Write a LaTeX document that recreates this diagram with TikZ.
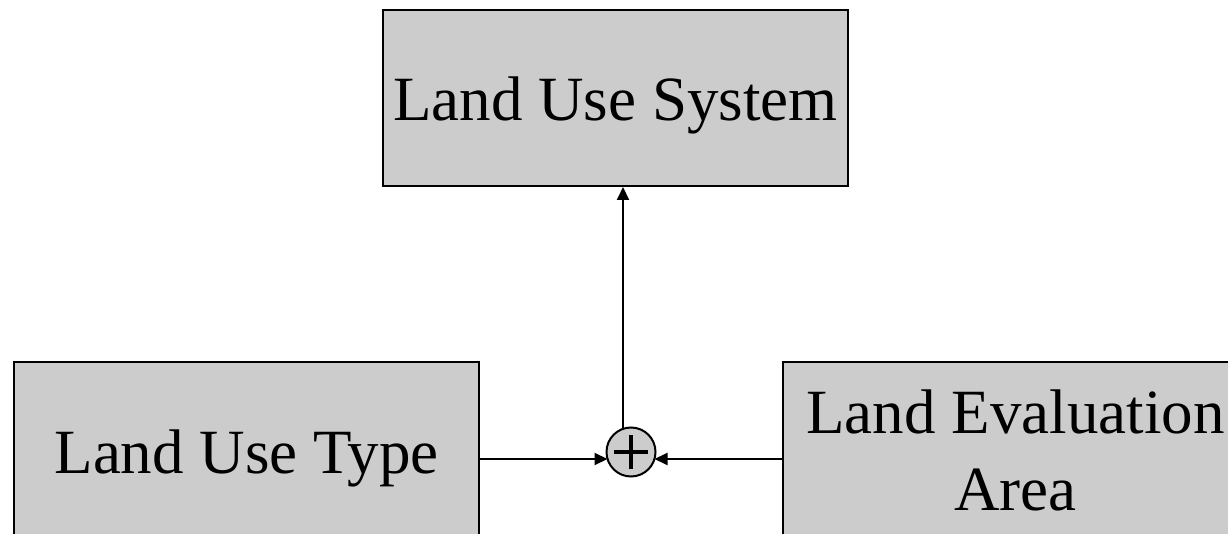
\documentclass[tikz,border=0pt]{standalone}
\usepackage{fontspec}
\setmainfont{Liberation Serif}
\usetikzlibrary{arrows.meta}
\definecolor{boxgray}{HTML}{CCCCCC}
\tikzset{
  box/.style={draw=black, fill=boxgray, line width=2pt, minimum width=465pt, minimum height=176pt, inner sep=0pt, align=center, font=\fontsize{63}{77}\selectfont},
  onebox/.style={box, text height=46pt, text depth=0pt},
  arr/.style={line width=2pt, -{Triangle[length=13pt,width=12pt]}},
  sumnode/.style={circle, draw=black, fill=boxgray, line width=2pt, minimum size=49pt, inner sep=0pt}
}
\begin{document}
\begin{tikzpicture}[x=1pt, y=-1pt]
\useasboundingbox (0,0) rectangle (1228,534);
\clip (0,0) rectangle (1228,534);
\node[onebox] (lus) at (615.5,98) {Land Use System};
\node[onebox] (lut) at (246.5,450) {Land Use Type};
\node[box] (lea) at (1015.5,450) {Land Evaluation\\Area};
\node[sumnode] (sum) at (631,452) {};
\draw[line width=4pt] ([xshift=-17pt]sum.center) -- ([xshift=17pt]sum.center);
\draw[line width=4pt] ([yshift=17pt]sum.center) -- ([yshift=-17pt]sum.center);
\coordinate (jl) at (607.5,459);
\coordinate (jr) at (654.5,459);
\coordinate (jt) at (623,428.8);
\draw[arr] (lut.east |- jl) -- (jl);
\draw[arr] (lea.west |- jr) -- (jr);
\draw[arr] (jt) -- (jt |- lus.south);
\end{tikzpicture}
\end{document}
